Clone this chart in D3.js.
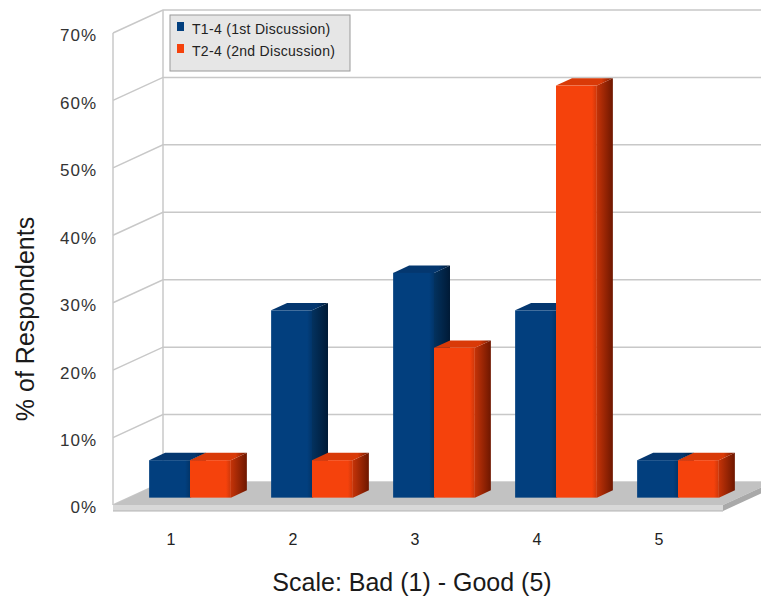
<!DOCTYPE html>
<html>
<head>
<meta charset="utf-8">
<script src="https://cdn.jsdelivr.net/npm/d3@7"></script>
<style>
  html, body { margin: 0; padding: 0; background: #ffffff; }
  svg { display: block; font-family: "Liberation Sans", Arial, sans-serif; }
</style>
</head>
<body>
<svg id="chart" width="761" height="599"></svg>
<script>
// Survey ratings: share of respondents per scale point, two discussion rounds
const categories = ["1", "2", "3", "4", "5"];
const seriesNames = ["T1-4 (1st Discussion)", "T2-4 (2nd Discussion)"];
const firstDiscussion = [1 / 18, 5 / 18, 6 / 18, 5 / 18, 1 / 18];
const secondDiscussion = [1 / 18, 1 / 18, 4 / 18, 11 / 18, 1 / 18];
const yTicks = [0, 0.1, 0.2, 0.3, 0.4, 0.5, 0.6, 0.7];
const xTitle = "Scale: Bad (1) - Good (5)";
const yTitle = "% of Respondents";

const series = [
  { name: seriesNames[0], values: firstDiscussion, key: "blue" },
  { name: seriesNames[1], values: secondDiscussion, key: "orange" }
];

const palette = {
  blue:   { front: "#023f7e", top: "#04376f", sideA: "#03325f", sideB: "#001a36" },
  orange: { front: "#f5420c", top: "#d93a08", sideA: "#c43308", sideB: "#6e1700" }
};

const svg = d3.select("#chart");
const defs = svg.append("defs");

// Oblique projection: depth z in [0,1] moves a point up and to the right
const DEPTH_X = 50, DEPTH_Y = -23;
const proj = (x, y, z) => [x + DEPTH_X * z, y + DEPTH_Y * z];

const x = d3.scaleBand().domain(categories).range([113, 723])
  .paddingInner(0.33).paddingOuter(0.165);
const xFront = d3.scaleBand().domain(categories).range([113, 723]);
const xSub = d3.scaleBand().domain(series.map(s => s.key)).range([0, x.bandwidth()]);
const y = d3.scaleLinear().domain([0, 0.7]).range([505, 33]);

const zBar0 = 0.32, zBar1 = 0.64;

// gradients for the shaded side, top and front faces
Object.entries(palette).forEach(([k, c]) => {
  const g = defs.append("linearGradient").attr("id", "side-" + k)
    .attr("x1", 0).attr("y1", 0).attr("x2", 1).attr("y2", 0);
  g.append("stop").attr("offset", "0%").attr("stop-color", c.sideA);
  g.append("stop").attr("offset", "100%").attr("stop-color", c.sideB);
  const t = defs.append("linearGradient").attr("id", "top-" + k)
    .attr("x1", 0).attr("y1", 0).attr("x2", 1).attr("y2", 0);
  t.append("stop").attr("offset", "0%").attr("stop-color", c.top);
  t.append("stop").attr("offset", "80%").attr("stop-color", c.top);
  t.append("stop").attr("offset", "100%").attr("stop-color", c.sideB);
  const f = defs.append("linearGradient").attr("id", "front-" + k)
    .attr("x1", 0).attr("y1", 0).attr("x2", 1).attr("y2", 0);
  f.append("stop").attr("offset", "0%").attr("stop-color", c.front);
  f.append("stop").attr("offset", "88%").attr("stop-color", c.front);
  f.append("stop").attr("offset", "100%").attr("stop-color", d3.color(c.front).darker(0.5));
});

const poly = pts => "M" + pts.map(p => p.join(",")).join("L") + "Z";

// ---- walls and grid ----
const grid = svg.append("g").attr("stroke", "#c8c8c8").attr("stroke-width", 1.5).attr("fill", "none");
const [x0, x1] = x.range();
yTicks.forEach(v => {
  const a = proj(x0, y(v), 0), b = proj(x0, y(v), 1), c = proj(x1, y(v), 1);
  grid.append("path").attr("d", `M${a}L${b}L${c}`);
});
grid.append("line")
  .attr("x1", x0).attr("x2", x0).attr("y1", y(0.7)).attr("y2", y(0));
grid.append("line")
  .attr("x1", proj(x0, 0, 1)[0]).attr("x2", proj(x0, 0, 1)[0])
  .attr("y1", proj(x0, y(0.7), 1)[1]).attr("y2", proj(x0, y(0), 1)[1]);

// ---- floor slab ----
const floor = svg.append("g");
const FLOOR_T = 6;
floor.append("path")
  .attr("d", poly([proj(x0, y(0), 0), proj(x1, y(0), 0), proj(x1, y(0), 1), proj(x0, y(0), 1)]))
  .attr("fill", "#c2c2c2");
floor.append("path")
  .attr("d", poly([proj(x1, y(0), 0), proj(x1, y(0), 1), proj(x1, y(0) + FLOOR_T, 1), proj(x1, y(0) + FLOOR_T, 0)]))
  .attr("fill", "#a9a9a9");
floor.append("rect")
  .attr("x", x0).attr("y", y(0)).attr("width", x1 - x0).attr("height", FLOOR_T)
  .attr("fill", "#d8d8d8");
floor.append("line")
  .attr("x1", x0).attr("x2", x1).attr("y1", y(0) + FLOOR_T).attr("y2", y(0) + FLOOR_T)
  .attr("stroke", "#b3b3b3").attr("stroke-width", 1);

// ---- 3D bars ----
const bars = svg.append("g");
categories.forEach((cat, i) => {
  series.forEach(s => {
    const v = s.values[i];
    const bx0 = x(cat) + xSub(s.key), bx1 = bx0 + xSub.bandwidth();
    const yt = y(v), yb = y(0);
    const g = bars.append("g");
    // right side face
    g.append("path")
      .attr("d", poly([proj(bx1, yt, zBar0), proj(bx1, yt, zBar1), proj(bx1, yb, zBar1), proj(bx1, yb, zBar0)]))
      .attr("fill", `url(#side-${s.key})`);
    // top face
    g.append("path")
      .attr("d", poly([proj(bx0, yt, zBar0), proj(bx1, yt, zBar0), proj(bx1, yt, zBar1), proj(bx0, yt, zBar1)]))
      .attr("fill", `url(#top-${s.key})`);
    // front face
    const f0 = proj(bx0, yt, zBar0), f1 = proj(bx1, yb, zBar0);
    g.append("rect")
      .attr("x", f0[0]).attr("y", f0[1])
      .attr("width", f1[0] - f0[0]).attr("height", f1[1] - f0[1])
      .attr("fill", `url(#front-${s.key})`);
  });
});

// ---- axis labels ----
svg.append("g").selectAll("text").data(yTicks).join("text")
  .attr("x", 97).attr("y", d => y(d) + 4)
  .attr("text-anchor", "end").attr("dominant-baseline", "middle")
  .attr("font-size", 17).attr("letter-spacing", 1).attr("fill", "#333")
  .text(d => d3.format(".0%")(d));

svg.append("g").selectAll("text").data(categories).join("text")
  .attr("x", d => xFront(d) + xFront.bandwidth() / 2 - 3).attr("y", 545)
  .attr("text-anchor", "middle")
  .attr("font-size", 16).attr("fill", "#222")
  .text(d => d);

svg.append("text")
  .attr("x", 412).attr("y", 591)
  .attr("text-anchor", "middle").attr("font-size", 25).attr("fill", "#1a1a1a")
  .text(xTitle);

svg.append("text")
  .attr("transform", "translate(34,319) rotate(-90)")
  .attr("text-anchor", "middle").attr("font-size", 25).attr("fill", "#1a1a1a")
  .text(yTitle);

// ---- legend ----
const legend = svg.append("g").attr("transform", "translate(170,15)");
legend.append("rect").attr("width", 180).attr("height", 56)
  .attr("fill", "#e6e6e6").attr("stroke", "#9a9a9a").attr("stroke-width", 1);
series.forEach((s, i) => {
  const row = legend.append("g").attr("transform", `translate(0,${i * 22})`);
  row.append("rect").attr("x", 7).attr("y", 7).attr("width", 7).attr("height", 9)
    .attr("fill", palette[s.key].front);
  row.append("text").attr("x", 22).attr("y", 19)
    .attr("font-size", 14).attr("letter-spacing", 0.3).attr("fill", "#222").text(s.name);
});
</script>
</body>
</html>
